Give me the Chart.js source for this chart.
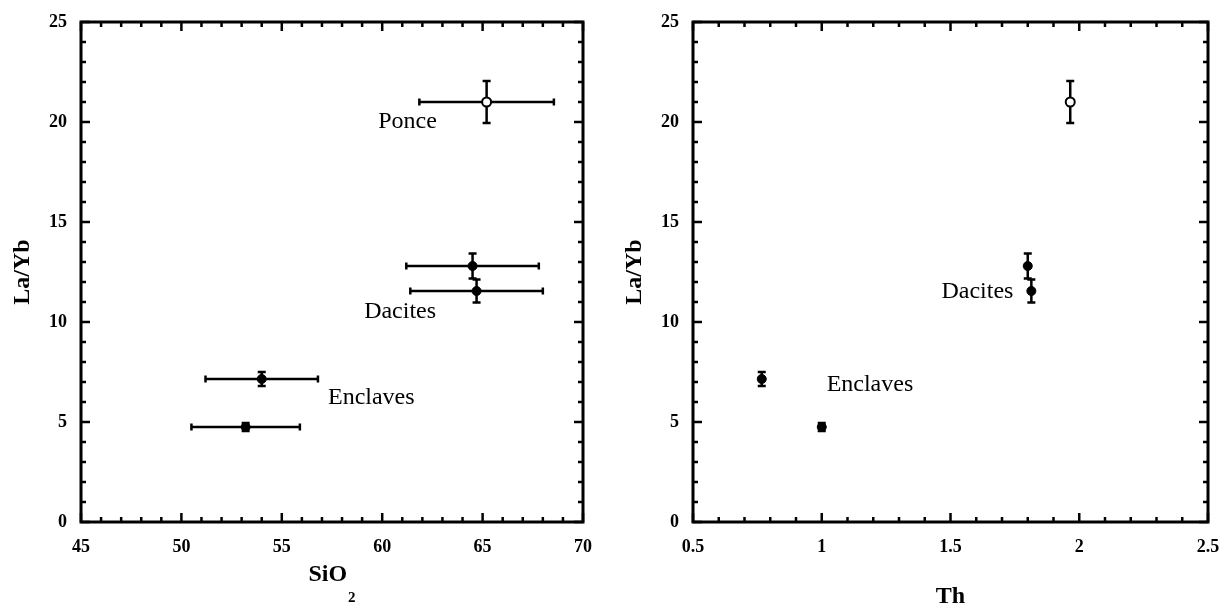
<!DOCTYPE html>
<html><head><meta charset="utf-8">
<script src="https://cdn.jsdelivr.net/npm/chart.js@4"></script>
<style>html,body{margin:0;padding:0;background:#fff;overflow:hidden}
canvas{position:absolute;top:0}</style></head>
<body>
<canvas id="c1" width="611" height="606" style="left:0"></canvas>
<canvas id="c2" width="611" height="606" style="left:611px"></canvas>
<script>
// ---- data ----
const ponceSiO2 = [65.2];
const ponceSiO2Err = [3.35];
const ponceTh = [1.965];
const ponceLaYb = [21.0];
const ponceLaYbErr = [1.05];

const daciteSiO2 = [64.5, 64.7];
const daciteSiO2Err = [3.3, 3.3];
const daciteTh = [1.80, 1.814];
const daciteLaYb = [12.8, 11.55];
const daciteLaYbErr = [0.62, 0.58];

const enclaveSiO2 = [54.0, 53.2];
const enclaveSiO2Err = [2.8, 2.7];
const enclaveTh = [0.767, 1.0];
const enclaveLaYb = [7.15, 4.75];
const enclaveLaYbErr = [0.35, 0.2];

const siO2Ticks = [45, 50, 55, 60, 65, 70];
const thTicks = [0.5, 1, 1.5, 2, 2.5];
const laYbTicks = [0, 5, 10, 15, 20, 25];

const leftLabels = ['Ponce', 'Dacites', 'Enclaves'];
const leftLabelX = [59.8, 59.1, 57.3];
const leftLabelY = [19.7, 10.2, 5.9];
const rightLabels = ['Dacites', 'Enclaves'];
const rightLabelX = [1.465, 1.019];
const rightLabelY = [11.2, 6.55];

// ---- helpers ----
const SERIF = '"Liberation Serif", "Times New Roman", serif';
function pts(xs, ys) { return xs.map((x, i) => ({x: x, y: ys[i]})); }

const errorBarPlugin = {
  id: 'errorBars',
  beforeDatasetsDraw(chart) {
    const {ctx, scales: {x, y}} = chart;
    ctx.save();
    ctx.strokeStyle = '#000';
    ctx.lineWidth = 2.5;
    chart.data.datasets.forEach((ds) => {
      ds.data.forEach((p, i) => {
        const px = x.getPixelForValue(p.x), py = y.getPixelForValue(p.y);
        if (ds.xErr) {
          const l = x.getPixelForValue(p.x - ds.xErr[i]), r = x.getPixelForValue(p.x + ds.xErr[i]);
          ctx.beginPath();
          ctx.moveTo(l, py); ctx.lineTo(r, py);
          ctx.moveTo(l, py - 3.5); ctx.lineTo(l, py + 3.5);
          ctx.moveTo(r, py - 3.5); ctx.lineTo(r, py + 3.5);
          ctx.stroke();
        }
        if (ds.yErr) {
          const t = y.getPixelForValue(p.y + ds.yErr[i]), b = y.getPixelForValue(p.y - ds.yErr[i]);
          ctx.beginPath();
          ctx.moveTo(px, t); ctx.lineTo(px, b);
          ctx.moveTo(px - 4, t); ctx.lineTo(px + 4, t);
          ctx.moveTo(px - 4, b); ctx.lineTo(px + 4, b);
          ctx.stroke();
        }
      });
    });
    ctx.restore();
  }
};

const framePlugin = {
  id: 'frame',
  afterDraw(chart, args, opts) {
    const {ctx, chartArea: a, scales: {x, y}} = chart;
    ctx.save();
    ctx.strokeStyle = '#000';
    ctx.fillStyle = '#000';
    // ticks
    ctx.lineWidth = 2.5;
    ctx.beginPath();
    const nx = Math.round((x.max - x.min) / opts.xMinor);
    for (let i = 0; i <= nx; i++) {
      const px = x.getPixelForValue(x.min + i * opts.xMinor);
      const len = (i % opts.xEvery === 0) ? 9 : 5;
      ctx.moveTo(px, a.bottom); ctx.lineTo(px, a.bottom - len);
      ctx.moveTo(px, a.top); ctx.lineTo(px, a.top + len);
    }
    const ny = Math.round((y.max - y.min) / opts.yMinor);
    for (let i = 0; i <= ny; i++) {
      const py = y.getPixelForValue(y.min + i * opts.yMinor);
      const len = (i % opts.yEvery === 0) ? 9 : 5;
      ctx.moveTo(a.left, py); ctx.lineTo(a.left + len, py);
      ctx.moveTo(a.right, py); ctx.lineTo(a.right - len, py);
    }
    ctx.stroke();
    ctx.lineWidth = 3;
    ctx.strokeRect(a.left, a.top, a.right - a.left, a.bottom - a.top);

    // annotation labels
    ctx.font = '24px ' + SERIF;
    ctx.textAlign = 'left';
    ctx.textBaseline = 'alphabetic';
    opts.labels.forEach((t, i) => {
      ctx.fillText(t, x.getPixelForValue(opts.labelX[i]), y.getPixelForValue(opts.labelY[i]));
    });

    // y title
    ctx.save();
    ctx.translate(a.left - 58, (a.top + a.bottom) / 2);
    ctx.rotate(-Math.PI / 2);
    ctx.font = 'bold 24px ' + SERIF;
    ctx.textAlign = 'center';
    ctx.textBaseline = 'middle';
    ctx.fillText(opts.yTitle, 0, 0);
    ctx.restore();

    // x title (with optional subscript)
    const cx = (a.left + a.right) / 2;
    ctx.font = 'bold 24px ' + SERIF;
    const w1 = ctx.measureText(opts.xTitle).width;
    let w2 = 0;
    if (opts.xSub) { ctx.font = 'bold 15px ' + SERIF; w2 = ctx.measureText(opts.xSub).width + 1; }
    const x0 = cx - (w1 + w2) / 2;
    ctx.textAlign = 'left';
    ctx.font = 'bold 24px ' + SERIF;
    ctx.fillText(opts.xTitle, x0, a.bottom + opts.xTitleOffset);
    if (opts.xSub) {
      ctx.font = 'bold 15px ' + SERIF;
      ctx.fillText(opts.xSub, x0 + w1 + 1, a.bottom + opts.xTitleOffset + 21);
    }
    ctx.restore();
  }
};

function makeChart(id, xVals, xErrs, xTicks, xMin, xMax, opts, padRight, yWidth) {
  const filled = {
    pointRadius: 4.5, pointBackgroundColor: '#000', pointBorderColor: '#000', pointBorderWidth: 1, showLine: false
  };
  const datasets = [
    Object.assign({label: 'Enclaves', data: pts(xVals.enclave, enclaveLaYb), xErr: xErrs ? xErrs.enclave : null, yErr: enclaveLaYbErr}, filled),
    Object.assign({label: 'Dacites', data: pts(xVals.dacite, daciteLaYb), xErr: xErrs ? xErrs.dacite : null, yErr: daciteLaYbErr}, filled),
    {label: 'Ponce', data: pts(xVals.ponce, ponceLaYb), xErr: xErrs ? xErrs.ponce : null, yErr: ponceLaYbErr,
     pointRadius: 4.5, pointBackgroundColor: '#fff', pointBorderColor: '#000', pointBorderWidth: 2, showLine: false}
  ];
  return new Chart(document.getElementById(id), {
    type: 'scatter',
    data: {datasets: datasets},
    options: {
      responsive: false,
      animation: false,
      events: [],
      layout: {padding: {top: 22, right: padRight, left: 0, bottom: 0}},
      plugins: {legend: {display: false}, tooltip: {enabled: false}, frame: opts},
      scales: {
        x: {
          type: 'linear', min: xMin, max: xMax,
          grid: {display: false, drawTicks: false},
          border: {display: false},
          afterBuildTicks: (s) => { s.ticks = xTicks.map(v => ({value: v})); },
          afterFit: (s) => { s.height = 84; s.paddingLeft = 0; s.paddingRight = 0; },
          ticks: {color: '#000', padding: 15, maxRotation: 0, autoSkip: false,
                  font: {family: SERIF, size: 18, weight: 'bold'},
                  callback: (v) => String(v)}
        },
        y: {
          type: 'linear', min: 0, max: 25,
          grid: {display: false, drawTicks: false},
          border: {display: false},
          afterBuildTicks: (s) => { s.ticks = laYbTicks.map(v => ({value: v})); },
          afterFit: (s) => { s.width = yWidth; s.paddingTop = 0; s.paddingBottom = 0; },
          ticks: {color: '#000', padding: 14, autoSkip: false,
                  font: {family: SERIF, size: 18, weight: 'bold'},
                  callback: (v) => String(v)}
        }
      }
    },
    plugins: [errorBarPlugin, framePlugin]
  });
}

makeChart('c1',
  {ponce: ponceSiO2, dacite: daciteSiO2, enclave: enclaveSiO2},
  {ponce: ponceSiO2Err, dacite: daciteSiO2Err, enclave: enclaveSiO2Err},
  siO2Ticks, 45, 70,
  {xMinor: 1, xEvery: 5, yMinor: 1, yEvery: 5, labels: leftLabels, labelX: leftLabelX, labelY: leftLabelY,
   yTitle: 'La/Yb', xTitle: 'SiO', xSub: '2', xTitleOffset: 59},
  28, 81);

makeChart('c2',
  {ponce: ponceTh, dacite: daciteTh, enclave: enclaveTh},
  null,
  thTicks, 0.5, 2.5,
  {xMinor: 0.1, xEvery: 5, yMinor: 1, yEvery: 5, labels: rightLabels, labelX: rightLabelX, labelY: rightLabelY,
   yTitle: 'La/Yb', xTitle: 'Th', xSub: '', xTitleOffset: 81},
  14, 82);
</script>
</body></html>
